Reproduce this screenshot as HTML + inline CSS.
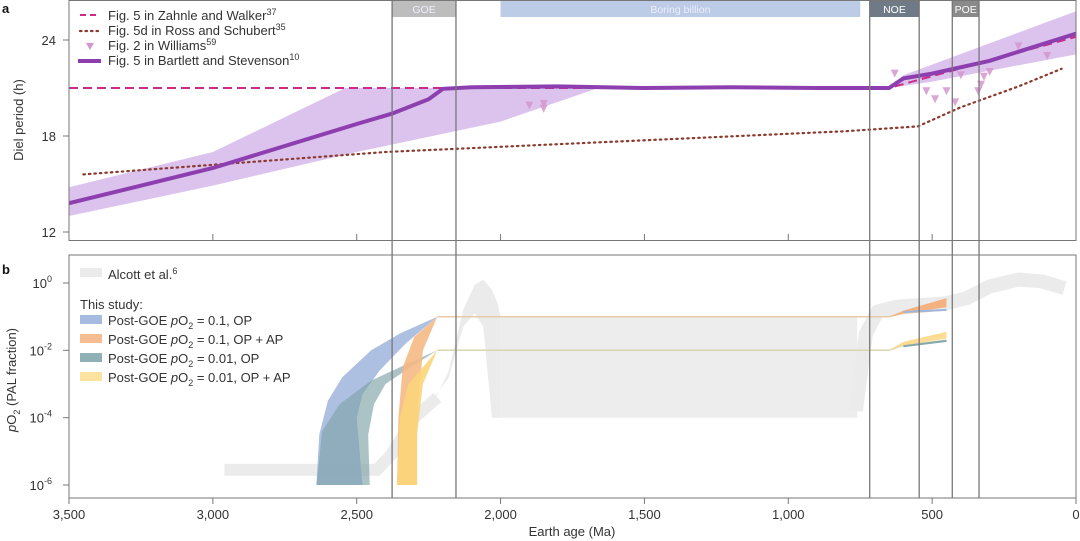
<!DOCTYPE html>
<html><head><meta charset="utf-8"><style>
body{margin:0;background:#fff;}
svg{display:block;font-family:"Liberation Sans",sans-serif;}
</style></head><body>
<svg id="c" width="1080" height="541" viewBox="0 0 1080 541"></svg>
<script>
// ---- data ----
const xTicks=[3500,3000,2500,2000,1500,1000,500,0];
const xTickLabels=["3,500","3,000","2,500","2,000","1,500","1,000","500","0"];
const aTicks=[24,18,12];
const bTickExps=[0,-2,-4,-6];
const eventLines=[2377,2155,717,545,430,337];
const eventBands=[{n:"GOE",a0:2377,a1:2155,c:"#bdbdbd"},{n:"Boring billion",a0:2000,a1:750,c:"#bccbe6"},{n:"NOE",a0:717,a1:545,c:"#6f7a86"},{n:"POE",a0:430,a1:337,c:"#8a8a8a"}];
const zahnleAge=[3500,650,0];
const zahnleVal=[21,21,24.2];
const rossAge=[3450,2400,800,550,400,200,50];
const rossVal=[15.6,17.0,18.3,18.6,19.8,21.1,22.2];
const bartAge=[3500,3000,2500,2377,2250,2200,2100,1800,1500,1200,900,650,600,500,300,0];
const bartVal=[13.8,16.0,18.75,19.4,20.3,20.95,21.05,21.1,21.0,21.05,21.0,21.0,21.6,21.9,22.7,24.4];
const bandUpAge=[3500,3000,2540,650,600,0];
const bandUpVal=[14.8,17.0,21.0,21.0,21.8,25.8];
const bandLoAge=[0,500,650,1660,2000,2500,3000,3500];
const bandLoVal=[23.1,21.4,21.0,21.0,18.9,17.0,14.9,13.0];
const willAge=[1900,1850,1850,630,520,490,450,420,400,340,330,320,300,200,100];
const willVal=[19.9,20.0,19.7,21.9,20.8,20.3,20.8,20.1,21.8,20.8,21.2,21.7,22.0,23.6,23.0];
// panel b (log10 PAL)
const alcLowAge=[2960,2430,2380,2300,2220];
const alcLowVal=[-5.55,-5.55,-5.1,-4.0,-3.4];
const alcSpikeAge=[2240,2180,2130,2090,2060,2030,2010,2000,2000,2030,2060,2090,2130,2180,2230];
const alcSpikeVal=[-3.7,-2.6,-0.8,-0.05,0.1,-0.2,-0.6,-1.0,-4.0,-4.0,-1.3,-0.9,-1.3,-2.8,-3.4];
const alcRectAge=[2000,760,760,2000];
const alcRectVal=[-1.0,-1.0,-4.0,-4.0];
const alcHiAge=[765,730,690,620,450,380,300,200,120,40];
const alcHiVal=[-3.8,-1.5,-0.85,-0.7,-0.6,-0.45,-0.1,0.1,0.05,-0.15];
const blueAge=[2640,2630,2600,2550,2450,2350,2220,2330,2420,2480,2500,2480];
const blueVal=[-6,-4.5,-3.5,-2.8,-2.0,-1.5,-1,-1.8,-2.6,-3.3,-4,-6];
const tealAge=[2640,2620,2560,2450,2350,2220,2330,2400,2440,2460,2455];
const tealVal=[-6,-4.4,-3.6,-2.9,-2.5,-2,-2.6,-3.0,-3.6,-4.5,-6];
const orangeAge=[2360,2355,2340,2300,2220,2270,2290,2290];
const orangeVal=[-6,-4,-2.5,-1.6,-1,-2,-4,-6];
const yellowAge=[2360,2350,2320,2220,2270,2290,2290];
const yellowVal=[-6,-4,-3,-2,-3,-4.5,-6];
const lateOrangeAge=[650,600,450,450,600,650];
const lateOrangeVal=[-1.0,-0.82,-0.45,-0.72,-0.9,-1.0];
const lateYellowAge=[650,600,450,450,600,650];
const lateYellowVal=[-2.0,-1.75,-1.45,-1.65,-1.85,-2.0];
const flatAge=[2220,650,600,450];
const flat1Val=[-1,-1,-0.9,-0.8];
const flat2Val=[-2,-2,-1.85,-1.7];
// ---- scales ----
const X=a=>1076-(a*(1076-69)/3500);
const YA=h=>40+(24-h)*16;
const YB=l=>283-l*(485-283)/6;
const svg=document.getElementById('c');
const NS="http://www.w3.org/2000/svg";
function mk(t,at,parent){const e=document.createElementNS(NS,t);for(const k in at)e.setAttribute(k,at[k]);(parent||svg).appendChild(e);return e;}
function pts(ag,vs,Y){return ag.map((a,i)=>X(a).toFixed(1)+","+Y(vs[i]).toFixed(1)).join(" ");}

// ---- panel a ----
let e;
e=mk('polygon',{points:pts(bandUpAge,bandUpVal,YA)+" "+pts(bandLoAge,bandLoVal,YA),fill:"#dcc3ee"});

e=mk('polyline',{points:pts(rossAge,rossVal,YA),fill:"none",stroke:"#8b3a2e","stroke-width":2.2,"stroke-dasharray":"1.5 4","stroke-linecap":"round"});

e=mk('polyline',{points:pts(zahnleAge,zahnleVal,YA),fill:"none",stroke:"#cc2a8a","stroke-width":2,"stroke-dasharray":"9 5"});

e=mk('polyline',{points:pts(bartAge,bartVal,YA),fill:"none",stroke:"#8d3fb0","stroke-width":4});

willAge.forEach((a,i)=>{const x=X(a),y=YA(willVal[i]);
 const t=mk('polygon',{points:`${x-4},${y-4} ${x+4},${y-4} ${x},${y+4}`,fill:"#d596cf",opacity:0.85});
 
 });
// frame a
e=mk('rect',{x:69,y:0.5,width:1007,height:240,fill:"none",stroke:"#777","stroke-width":1});

aTicks.forEach(v=>{const y=YA(v);mk('line',{x1:63,x2:69,y1:y,y2:y,stroke:"#777"});
 const t=mk('text',{x:56,y:y+5,"text-anchor":"end","font-size":13,fill:"#333"});t.textContent=v;
 });
xTicks.forEach(a=>{mk('line',{x1:X(a),x2:X(a),y1:240,y2:234,stroke:"#777"});});
// bands top
eventBands.forEach(b=>{const r=mk('rect',{x:X(b.a0),y:1,width:X(b.a1)-X(b.a0),height:16,fill:b.c});
 
 
 const t=mk('text',{x:(X(b.a0)+X(b.a1))/2,y:13,"text-anchor":"middle","font-size":10.5,fill:b.n=="GOE"||b.n=="Boring billion"?"#eef":"#fff"});t.textContent=b.n;
 
 });
// legend a
e=mk('g',{});
mk('line',{x1:80,x2:100,y1:15,y2:15,stroke:"#cc2a8a","stroke-width":2,"stroke-dasharray":"6 4"},e);
mk('line',{x1:80,x2:100,y1:31,y2:31,stroke:"#8b3a2e","stroke-width":2.2,"stroke-dasharray":"1.5 4","stroke-linecap":"round"},e);
mk('polygon',{points:"86,43 94,43 90,50",fill:"#d596cf"},e);
mk('line',{x1:78,x2:101,y1:61,y2:61,stroke:"#8d3fb0","stroke-width":4},e);
[["Fig. 5 in Zahnle and Walker","37",20],["Fig. 5d in Ross and Schubert","35",35],["Fig. 2 in Williams","59",50],["Fig. 5 in Bartlett and Stevenson","10",65]].forEach(l=>{
 const t=mk('text',{x:108,y:l[2],"font-size":13,fill:"#333"},e);t.innerHTML=l[0]+'<tspan dy="-5" font-size="9">'+l[1]+'</tspan>';
 
 });
e=mk('text',{x:0,y:0,transform:"translate(23,120) rotate(-90)","text-anchor":"middle","font-size":13,fill:"#333"});e.textContent="Diel period (h)";

e=mk('text',{x:2,y:13,"font-size":13,"font-weight":"bold",fill:"#111"});e.textContent="a";


// ---- panel b ----
e=mk('polyline',{points:pts(alcLowAge,alcLowVal,YB),fill:"none",stroke:"#ebebeb","stroke-width":12});

e=mk('polygon',{points:pts(alcSpikeAge,alcSpikeVal,YB),fill:"#ebebeb"});

e=mk('polygon',{points:pts(alcRectAge,alcRectVal,YB),fill:"#ededed"});

e=mk('polyline',{points:pts(alcHiAge,alcHiVal,YB),fill:"none",stroke:"#ebebeb","stroke-width":14,"stroke-linejoin":"round"});

const studies=[[blueAge,blueVal,"#9fb5dc",0.85,"band-post-goe-0.1-op"],[tealAge,tealVal,"#7fa3a8",0.65,"band-post-goe-0.01-op"],[orangeAge,orangeVal,"#f5b985",0.9,"band-post-goe-0.1-op-ap"],[yellowAge,yellowVal,"#fbd57a",0.9,"band-post-goe-0.01-op-ap"]];
studies.forEach(s=>{const p=mk('polygon',{points:pts(s[0],s[1],YB),fill:s[2],opacity:s[3]});
 
 });
e=mk('polyline',{points:pts(flatAge,flat1Val,YB),fill:"none",stroke:"#e8c9a8","stroke-width":1.5});

e=mk('polyline',{points:pts(flatAge,flat2Val,YB),fill:"none",stroke:"#d8d6b0","stroke-width":1.5});

e=mk('polygon',{points:pts(lateOrangeAge,lateOrangeVal,YB),fill:"#f3b27f"});

e=mk('polygon',{points:pts(lateYellowAge,lateYellowVal,YB),fill:"#fbdc92"});

e=mk('line',{x1:X(600),y1:YB(-0.86),x2:X(450),y2:YB(-0.8),stroke:"#9fb5dc","stroke-width":2});

e=mk('line',{x1:X(600),y1:YB(-1.88),x2:X(450),y2:YB(-1.72),stroke:"#86a7ac","stroke-width":2});

e=mk('rect',{x:69,y:255,width:1007,height:243,fill:"none",stroke:"#777"});

bTickExps.forEach(v=>{const y=YB(v);mk('line',{x1:63,x2:69,y1:y,y2:y,stroke:"#777"});
 const t=mk('text',{x:52,y:y+5,"text-anchor":"end","font-size":13,fill:"#333"});t.innerHTML='10<tspan dy="-6" font-size="9">'+v+'</tspan>';
 });
xTicks.forEach((a,i)=>{mk('line',{x1:X(a),x2:X(a),y1:498,y2:504,stroke:"#777"});
 const t=mk('text',{x:X(a),y:519,"text-anchor":"middle","font-size":13,fill:"#333"});t.textContent=xTickLabels[i];
 });
// event lines spanning both panels
eventLines.forEach(a=>{const l=mk('line',{x1:X(a),x2:X(a),y1:0,y2:498,stroke:"#777","stroke-width":1.3});
 
 });
// legend b
e=mk('g',{});
mk('rect',{x:80,y:268,width:22,height:9,fill:"#ebebeb"},e);
let t=mk('text',{x:108,y:279,"font-size":13,fill:"#333"},e);t.innerHTML='Alcott et al.<tspan dy="-5" font-size="9">6</tspan>';
t=mk('text',{x:80,y:309,"font-size":13,fill:"#333"},e);t.textContent="This study:";
[["#a6bbe0","0.1, OP",325],["#f6bd92","0.1, OP + AP",344],["#8fb0b4","0.01, OP",363],["#fde2a0","0.01, OP + AP",382]].forEach(l=>{
 mk('rect',{x:80,y:l[2]-10,width:22,height:9,fill:l[0]},e);
 const tt=mk('text',{x:108,y:l[2],"font-size":13,fill:"#333"},e);tt.innerHTML='Post-GOE <tspan font-style="italic">p</tspan>O<tspan dy="4" font-size="9">2</tspan><tspan dy="-4"> = '+l[1]+'</tspan>';
 
 });
e=mk('text',{x:0,y:0,transform:"translate(16,380) rotate(-90)","text-anchor":"middle","font-size":13,fill:"#333"});e.innerHTML='<tspan font-style="italic">p</tspan>O<tspan dy="4" font-size="9">2</tspan><tspan dy="-4"> (PAL fraction)</tspan>';

e=mk('text',{x:2,y:274,"font-size":13,"font-weight":"bold",fill:"#111"});e.textContent="b";

e=mk('text',{x:572,y:536,"text-anchor":"middle","font-size":13,fill:"#333"});e.textContent="Earth age (Ma)";

</script>
</body></html>
